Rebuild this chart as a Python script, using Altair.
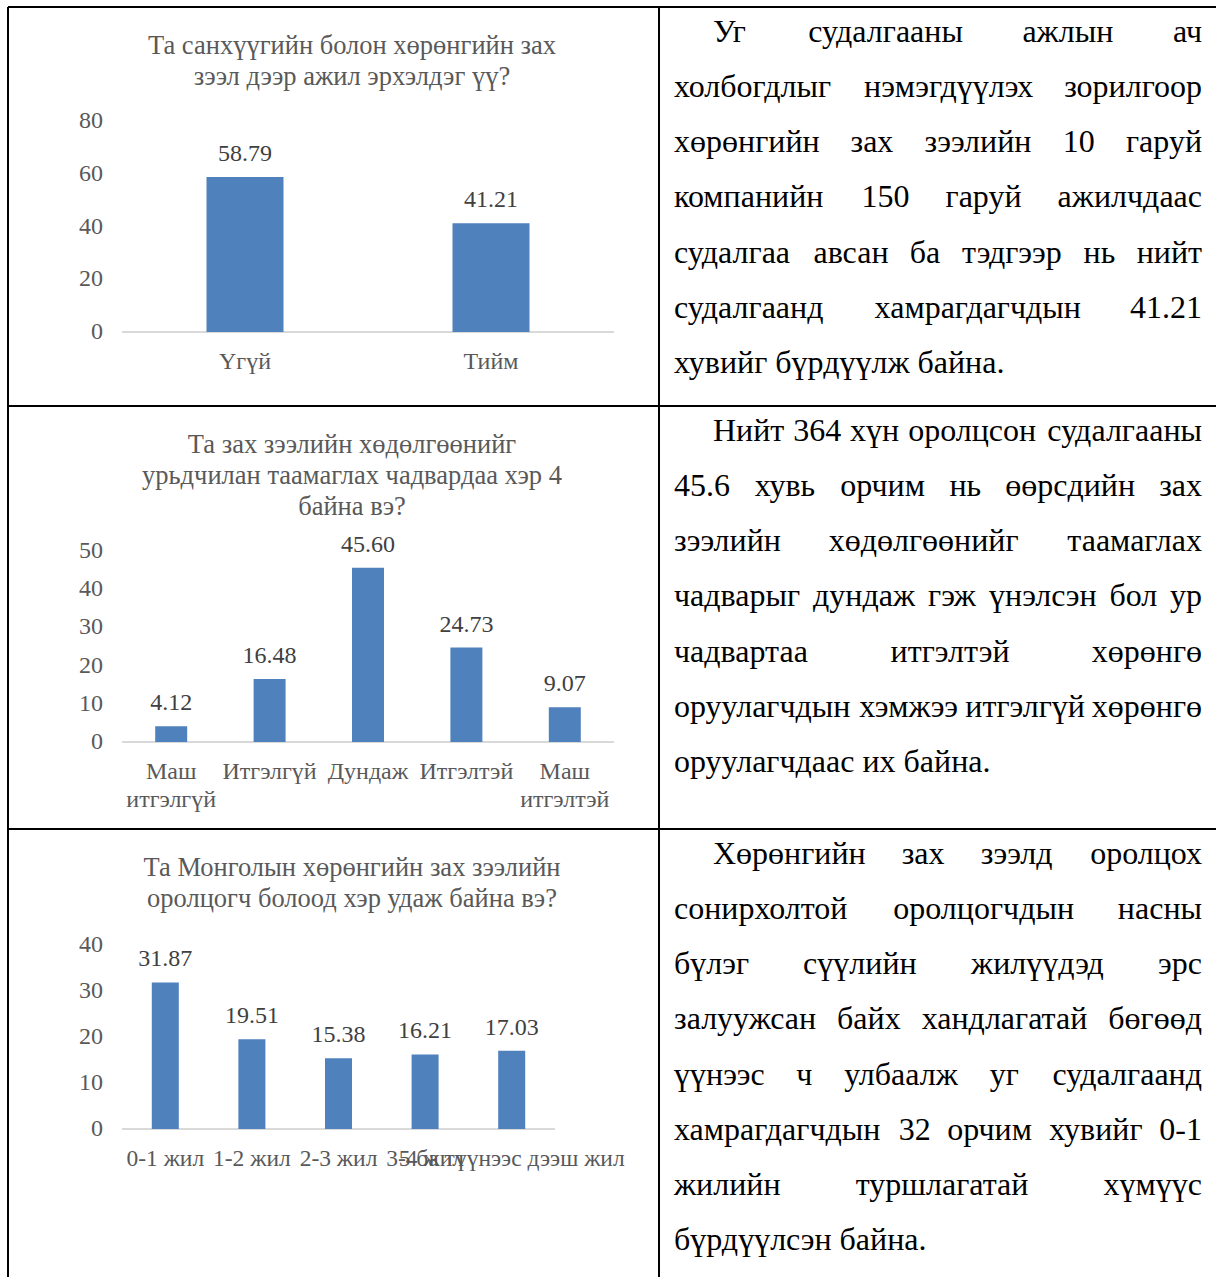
import altair as alt
import pandas as pd

# ---------------- survey charts ----------------
q1_title = ["Та санхүүгийн болон хөрөнгийн зах", "зээл дээр ажил эрхэлдэг үү?"]
q1_cats = ["Үгүй", "Тийм"]
q1_vals = [58.79, 41.21]
q1_ticks = [0, 20, 40, 60, 80]

q2_title = ["Та зах зээлийн хөдөлгөөнийг",
            "урьдчилан таамаглах чадвардаа хэр 4",
            "байна вэ?"]
q2_cats = ["Маш итгэлгүй", "Итгэлгүй", "Дундаж", "Итгэлтэй", "Маш итгэлтэй"]
q2_vals = [4.12, 16.48, 45.60, 24.73, 9.07]
q2_ticks = [0, 10, 20, 30, 40, 50]

q3_title = ["Та Монголын хөрөнгийн зах зээлийн", "оролцогч болоод хэр удаж байна вэ?"]
q3_cats = ["0-1 жил", "1-2 жил", "2-3 жил", "3-4 жил", "5 ба түүнээс дээш жил"]
q3_vals = [31.87, 19.51, 15.38, 16.21, 17.03]
q3_ticks = [0, 10, 20, 30, 40]

# ---------------- commentary column ----------------
para1 = [
    "Уг судалгааны ажлын ач",
    "холбогдлыг нэмэгдүүлэх зорилгоор",
    "хөрөнгийн зах зээлийн 10 гаруй",
    "компанийн 150 гаруй ажилчдаас",
    "судалгаа авсан ба тэдгээр нь нийт",
    "судалгаанд хамрагдагчдын 41.21",
    "хувийг бүрдүүлж байна.",
]
para2 = [
    "Нийт 364 хүн оролцсон судалгааны",
    "45.6 хувь орчим нь өөрсдийн зах",
    "зээлийн хөдөлгөөнийг таамаглах",
    "чадварыг дундаж гэж үнэлсэн бол ур",
    "чадвартаа итгэлтэй хөрөнгө",
    "оруулагчдын хэмжээ итгэлгүй хөрөнгө",
    "оруулагчдаас их байна.",
]
para3 = [
    "Хөрөнгийн зах зээлд оролцох",
    "сонирхолтой оролцогчдын насны",
    "бүлэг сүүлийн жилүүдэд эрс",
    "залуужсан байх хандлагатай бөгөөд",
    "үүнээс ч улбаалж уг судалгаанд",
    "хамрагдагчдын 32 орчим хувийг 0-1",
    "жилийн туршлагатай хүмүүс",
    "бүрдүүлсэн байна.",
]

FONT = "Liberation Serif"
BAR = "#4F81BD"
GREY = "#595959"
DARK = "#404040"

ROW_TOPS = [7, 406, 829]
TABLE_LEFT, TABLE_MID, TABLE_RIGHT, TABLE_BOTTOM = 8, 659, 1216, 1277

# Advance widths of the serif face (1/1000 em), used to justify the column text
ADV = {
    " ": 250, ".": 250, ",": 250, "-": 333, "?": 444,
    "а": 444, "б": 509, "в": 472, "г": 410, "д": 509, "е": 444, "ж": 691,
    "з": 395, "и": 535, "й": 535, "к": 486, "л": 499, "м": 633, "н": 535,
    "о": 500, "п": 535, "р": 500, "с": 444, "т": 437, "у": 500, "ф": 648,
    "х": 500, "ц": 535, "ч": 503, "ш": 770, "щ": 770, "ъ": 517, "ы": 672,
    "ь": 456, "э": 429, "ю": 747, "я": 460, "ө": 500, "ү": 500,
    "У": 708, "Н": 722, "Х": 722, "Т": 611, "М": 889, "Д": 682, "И": 722,
}


def text_width(s, size):
    return sum(ADV.get(ch, 500) for ch in s) * size / 1000.0


def justified_words(lines, top, size=32, left=674, indent=39, right=1202, lead=55.15):
    rows = []
    for i, line in enumerate(lines):
        y = top + 35 + lead * i
        x0 = left + (indent if i == 0 else 0)
        if i == len(lines) - 1:
            rows.append(dict(t=line, x=x0, y=y, a="left"))
            continue
        words = line.split(" ")
        widths = [text_width(w, size) for w in words]
        gap = (right - x0 - sum(widths)) / (len(words) - 1)
        pos = x0
        for k, (w, wd) in enumerate(zip(words, widths)):
            if k == 0:
                rows.append(dict(t=w, x=x0, y=y, a="left"))
            elif k == len(words) - 1:
                rows.append(dict(t=w, x=right, y=y, a="right"))
            else:
                rows.append(dict(t=w, x=pos + wd / 2, y=y, a="center"))
            pos += wd + gap
    return rows


def bar_panel(title, cats, vals, ticks, top, zero_px, max_px, x_lo, x_hi,
              pad, cat_size, wrap):
    labels = [c.replace(" ", "\n") if wrap else c for c in cats]
    df = pd.DataFrame({"cat": cats, "val": vals, "label": labels})
    xs = alt.Scale(domain=cats, range=[x_lo, x_hi],
                   paddingInner=pad, paddingOuter=pad / 2)
    ys = alt.Scale(domain=[ticks[0], ticks[-1]], range=[zero_px, max_px],
                   nice=False, zero=True)
    X = alt.X("cat:N", scale=xs, axis=None)

    base_line = alt.Chart(pd.DataFrame({"v": [0]})).mark_rule(
        color="#D9D9D9", strokeWidth=2
    ).encode(
        y=alt.Y("v:Q", scale=ys, axis=None),
        x=alt.value(x_lo), x2=alt.value(x_hi),
    )
    bars = alt.Chart(df).mark_bar(color=BAR).encode(
        x=X, y=alt.Y("val:Q", scale=ys, axis=None)
    )
    values = alt.Chart(df).mark_text(
        font=FONT, fontSize=24, color=DARK, baseline="alphabetic", dy=-16
    ).encode(
        x=X, y=alt.Y("val:Q", scale=ys, axis=None),
        text=alt.Text("val:Q", format=".2f"),
    )
    cat_text = alt.Chart(df).mark_text(
        font=FONT, fontSize=cat_size, color=GREY, baseline="alphabetic",
        lineBreak="\n", lineHeight=28,
    ).encode(x=X, y=alt.value(zero_px + 37), text="label:N")
    tick_text = alt.Chart(pd.DataFrame({"t": ticks})).mark_text(
        font=FONT, fontSize=24, color=GREY, align="right", baseline="middle"
    ).encode(
        y=alt.Y("t:Q", scale=ys, axis=None), x=alt.value(103), text="t:Q"
    )
    head = alt.Chart(pd.DataFrame({"t": ["\n".join(title)]})).mark_text(
        font=FONT, fontSize=26.5, color=GREY, align="center",
        baseline="alphabetic", lineBreak="\n", lineHeight=31,
    ).encode(x=alt.value(352), y=alt.value(top + 47), text="t:N")
    return [base_line, bars, values, cat_text, tick_text, head]


layers = []
layers += bar_panel(q1_title, q1_cats, q1_vals, q1_ticks, ROW_TOPS[0],
                    332, 121, 122, 614, 0.687, 24, False)
layers += bar_panel(q2_title, q2_cats, q2_vals, q2_ticks, ROW_TOPS[1],
                    742, 551, 122, 614, 0.675, 24, True)
layers += bar_panel(q3_title, q3_cats, q3_vals, q3_ticks, ROW_TOPS[2],
                    1129, 945, 122, 555, 0.688, 23.5, False)

# justified commentary text
words = pd.DataFrame(
    justified_words(para1, ROW_TOPS[0])
    + justified_words(para2, ROW_TOPS[1])
    + justified_words(para3, ROW_TOPS[2])
)
for a in ["left", "center", "right"]:
    layers.append(
        alt.Chart(words[words["a"] == a]).mark_text(
            font=FONT, fontSize=32, color="black", align=a, baseline="alphabetic"
        ).encode(
            x=alt.X("x:Q", scale=None, axis=None),
            y=alt.Y("y:Q", scale=None, axis=None),
            text="t:N",
        )
    )

# table grid
def hline(y, x1=TABLE_LEFT, x2=TABLE_RIGHT):
    return alt.Chart(pd.DataFrame({"k": [0]})).mark_rule(
        color="black", strokeWidth=2
    ).encode(x=alt.value(x1), x2=alt.value(x2), y=alt.value(y))


def vline(x):
    return alt.Chart(pd.DataFrame({"k": [0]})).mark_rule(
        color="black", strokeWidth=2
    ).encode(x=alt.value(x), y=alt.value(ROW_TOPS[0]), y2=alt.value(TABLE_BOTTOM))


for yt in ROW_TOPS:
    layers.append(hline(yt))
layers.append(vline(TABLE_LEFT))
layers.append(vline(TABLE_MID))

chart = alt.layer(*layers).resolve_scale(
    x="independent", y="independent"
).properties(
    width=1216, height=1277, padding=0, autosize="none", background="white"
).configure_view(stroke=None)

chart.save("out.html", embed_options={"renderer": "svg", "actions": False})
